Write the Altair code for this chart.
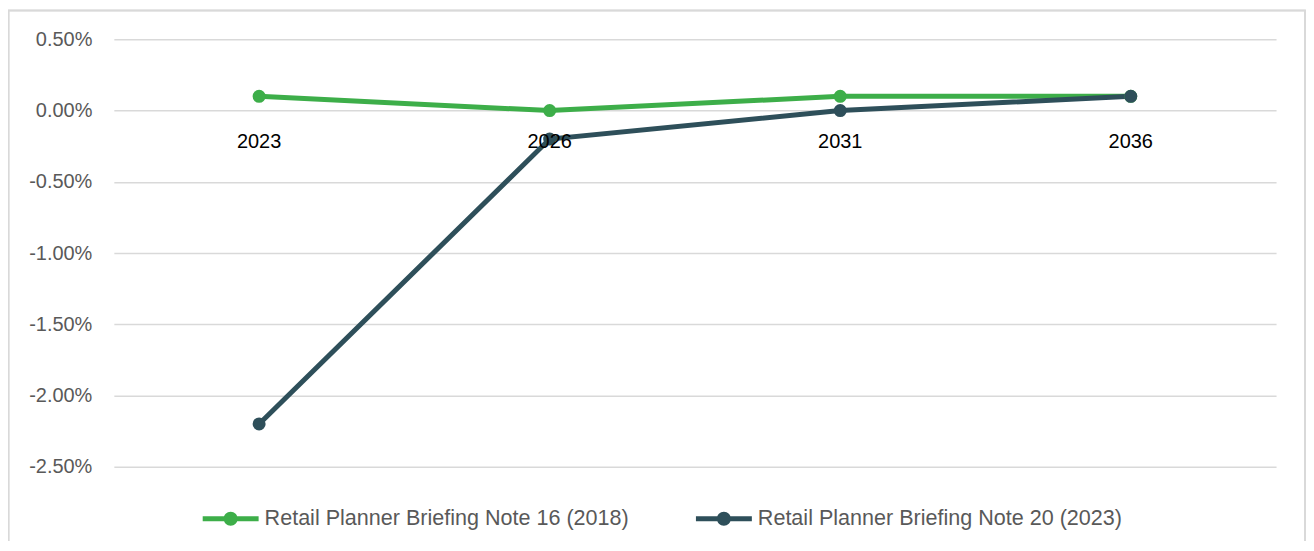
import altair as alt
import pandas as pd

years = ["2023", "2026", "2031", "2036"]
series_names = ["Retail Planner Briefing Note 16 (2018)", "Retail Planner Briefing Note 20 (2023)"]
note16 = [0.001, 0.0, 0.001, 0.001]
note20 = [-0.022, -0.002, 0.0, 0.001]
colors = ["#3DAE49", "#2E4F5A"]
y_ticks = [0.005, 0.0, -0.005, -0.01, -0.015, -0.02, -0.025]

rows = []
for name, vals in zip(series_names, [note16, note20]):
    for yr, v in zip(years, vals):
        rows.append({"year": yr, "value": v, "series": name})
df = pd.DataFrame(rows)
lab_df = pd.DataFrame({"year": years, "zero": [0.0] * len(years)})

FONT = "Liberation Sans"
x_enc = alt.X("year:N", sort=years, axis=None, scale=alt.Scale(type="point", padding=0.5))
y_scale = alt.Scale(domain=[-0.025, 0.005], nice=False, zero=False)
color_scale = alt.Scale(domain=series_names, range=colors)

sym = ("M-1,-0.09 L1,-0.09 L1,0.09 L-1,0.09 Z "
       "M-0.25,0 A0.25,0.25 0 1,1 0.25,0 A0.25,0.25 0 1,1 -0.25,0 Z")

lines = alt.Chart(df).mark_line(strokeWidth=5).encode(
    x=x_enc,
    y=alt.Y("value:Q", scale=y_scale,
            axis=alt.Axis(values=y_ticks, format=".2%", title=None, domain=False,
                          labelExpr="replace(datum.label, '\u2212', '-')",
                          ticks=False, labelPadding=22, labelFontSize=20,
                          labelColor="#595959", labelFont=FONT,
                          gridColor="#D9D9D9", gridWidth=1.5)),
    color=alt.Color("series:N", scale=color_scale, sort=series_names,
                    legend=alt.Legend(title=None, orient="none", direction="horizontal",
                                      legendX=89, legendY=452, padding=0,
                                      symbolType=sym, symbolSize=3136, symbolStrokeWidth=0,
                                      labelFontSize=21.6, labelColor="#595959", labelFont=FONT,
                                      labelOffset=6, columnPadding=67, labelLimit=600)),
    order=alt.Order("series:N"),
)

points = alt.Chart(df).mark_circle(size=170, opacity=1).encode(
    x=x_enc,
    y=alt.Y("value:Q", scale=y_scale),
    color=alt.Color("series:N", scale=color_scale, legend=None),
)

labels = alt.Chart(lab_df).mark_text(fontSize=20, font=FONT, color="#000000", dy=31).encode(
    x=x_enc,
    y=alt.Y("zero:Q", scale=y_scale),
    text="year:N",
)

border = alt.Chart(lab_df).mark_rect(fill=None, stroke="#D9D9D9", strokeWidth=1.5).encode(
    x=alt.value(-105.5), x2=alt.value(1193), y=alt.value(-29), y2=alt.value(600),
)

chart = alt.layer(border, lines, points, labels).properties(
    width=1164, height=428,
    autosize=alt.AutoSizeParams(type="none"),
    padding={"left": 106, "top": 31, "right": 30, "bottom": 74},
    background="white",
).configure_view(stroke=None)

chart.save("out.html", embed_options={"renderer": "svg", "actions": False})
